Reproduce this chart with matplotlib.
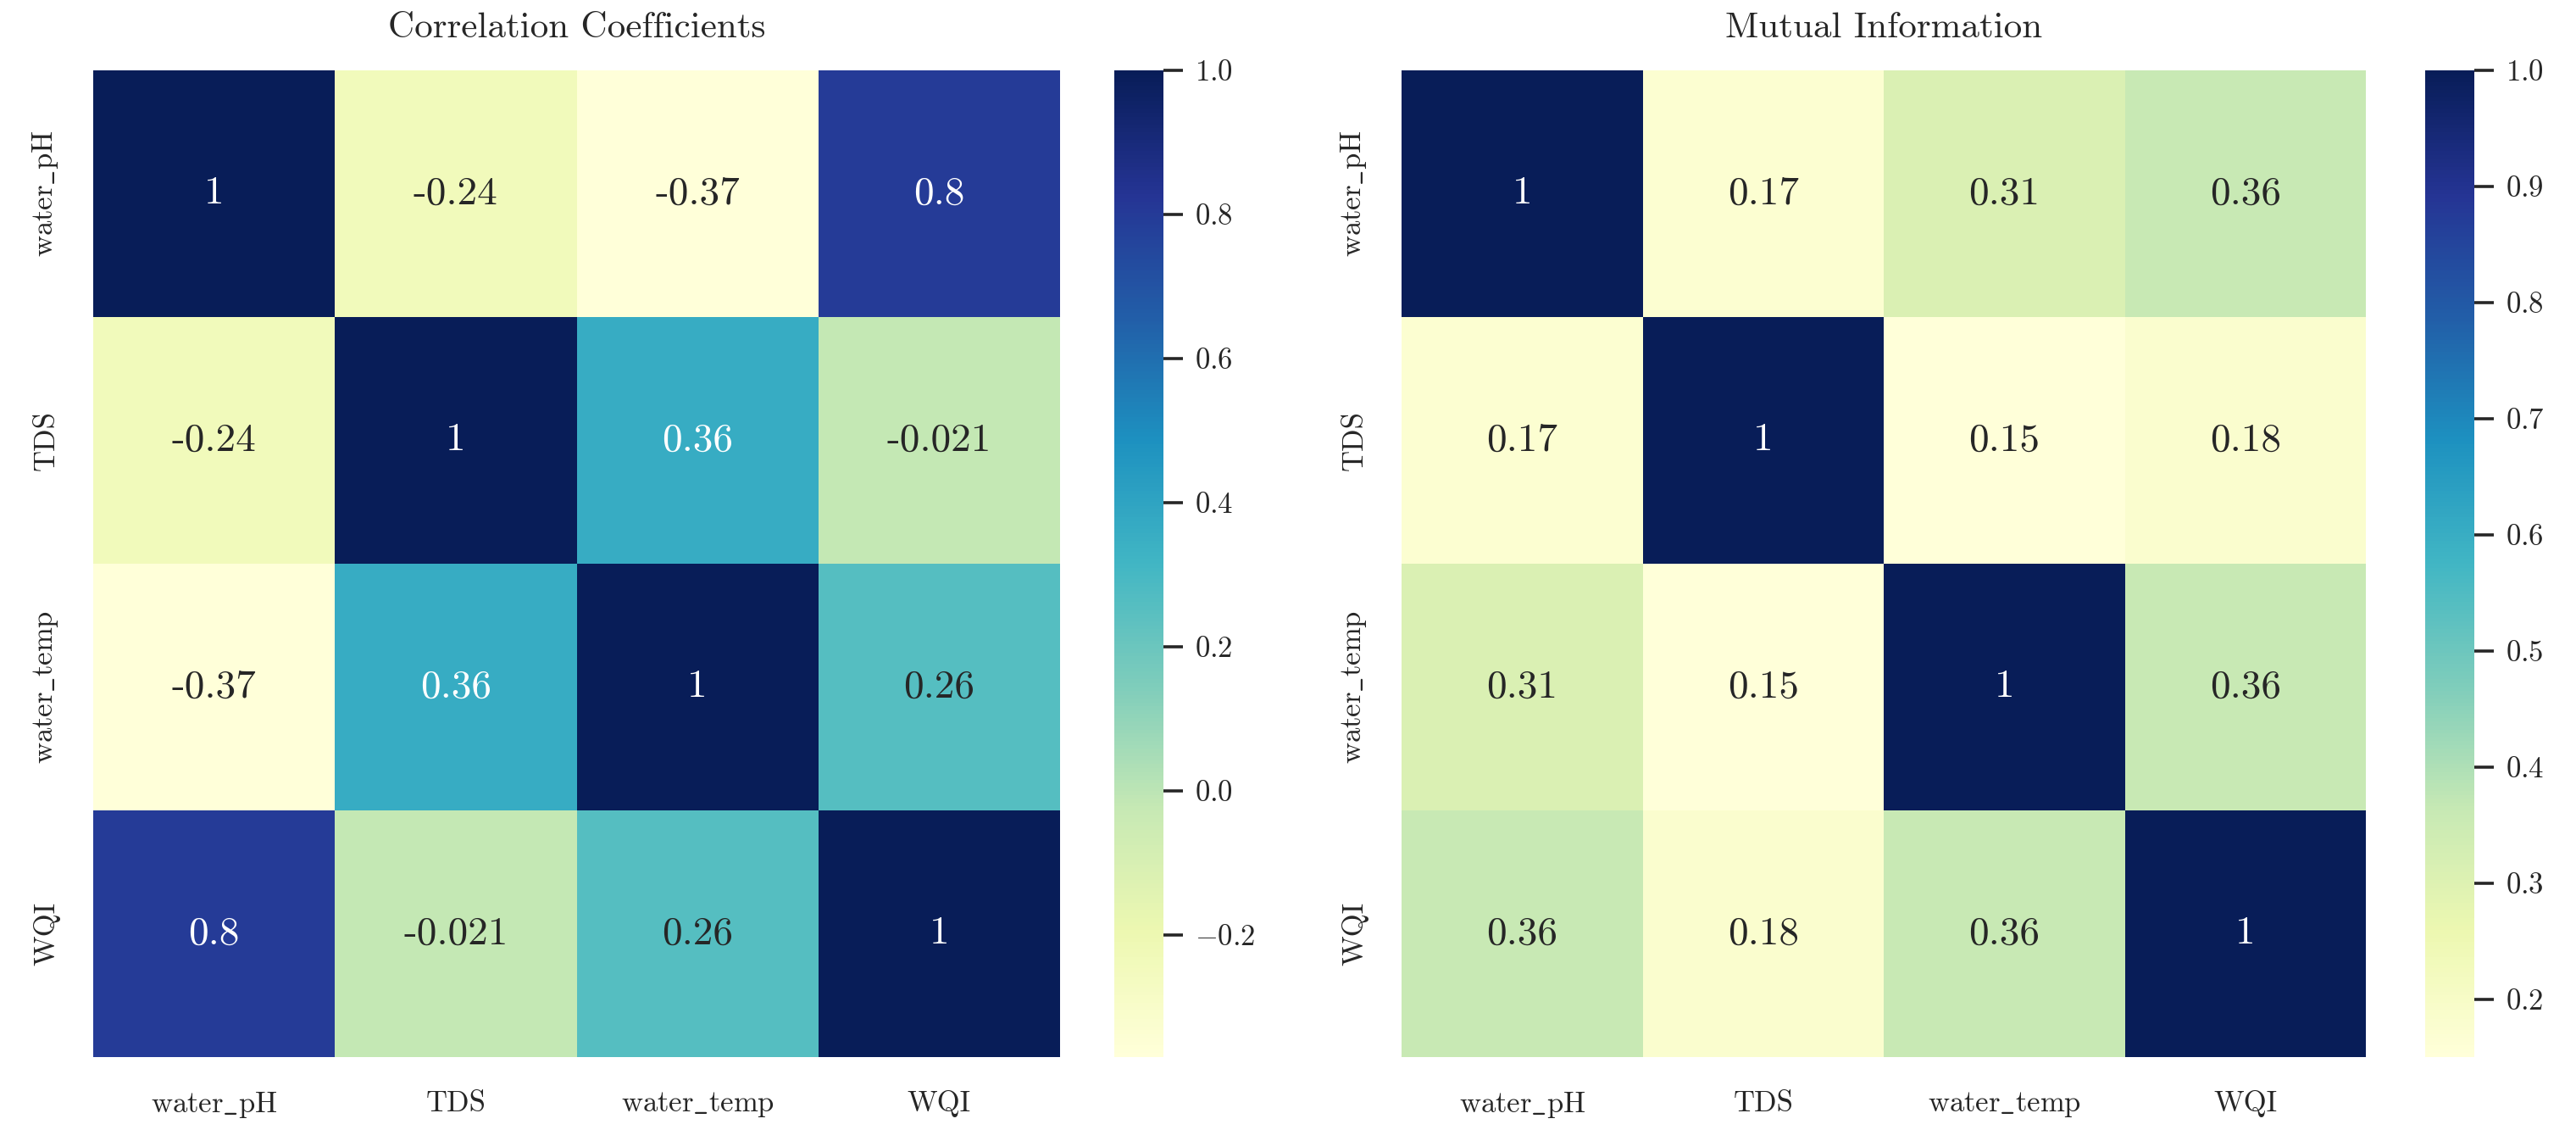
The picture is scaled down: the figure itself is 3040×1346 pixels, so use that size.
import numpy as np
import matplotlib
matplotlib.use("Agg")
import matplotlib.pyplot as plt
import seaborn as sns

labels = ["water_pH", "TDS", "water_temp", "WQI"]
corr_vals = [
    [1.0, -0.24, -0.37, 0.8],
    [-0.24, 1.0, 0.36, -0.021],
    [-0.37, 0.36, 1.0, 0.26],
    [0.8, -0.021, 0.26, 1.0],
]
mi_vals = [
    [1.0, 0.17, 0.31, 0.36],
    [0.17, 1.0, 0.15, 0.18],
    [0.31, 0.15, 1.0, 0.36],
    [0.36, 0.18, 0.36, 1.0],
]
titles = ["Correlation Coefficients", "Mutual Information"]

sns.set_theme(style="white")
plt.rcParams["font.family"] = ["cmr10", "DejaVu Serif"]
plt.rcParams["mathtext.fontset"] = "cm"
plt.rcParams["axes.formatter.use_mathtext"] = True
plt.rcParams["axes.unicode_minus"] = True

fig = plt.figure(figsize=(15.2, 6.73), dpi=200)
H = 1346.0
W = 3040.0
def rect(x0, x1, y0, y1):
    return [x0 / W, 1 - y1 / H, (x1 - x0) / W, (y1 - y0) / H]

ax1 = fig.add_axes(rect(110, 1251, 83, 1247))
cb1 = fig.add_axes(rect(1315, 1373, 83, 1247))
ax2 = fig.add_axes(rect(1654, 2792, 83, 1247))
cb2 = fig.add_axes(rect(2862, 2920, 83, 1247))

tick_labels = [l.replace("_", r"$\_$") for l in labels]

for ax, cax, vals, title in [(ax1, cb1, corr_vals, titles[0]), (ax2, cb2, mi_vals, titles[1])]:
    sns.heatmap(np.array(vals), ax=ax, cbar_ax=cax, cmap="YlGnBu", annot=True,
                fmt=".2g", annot_kws={"fontsize": 17},
                xticklabels=tick_labels, yticklabels=tick_labels)
    ax.set_title(title, fontsize=15.5, pad=14, color="#262626")
    ax.tick_params(axis="both", length=0, pad=14, labelsize=12.5, colors="#262626")
    ax.tick_params(axis="y", rotation=90)
    for t in ax.get_yticklabels():
        t.set_va("center")
    cax.tick_params(length=8.3, width=1.3, pad=5, labelsize=12.5, colors="#262626")

cb1.set_yticks([-0.2, 0.0, 0.2, 0.4, 0.6, 0.8, 1.0])
cb2.set_yticks([0.2, 0.3, 0.4, 0.5, 0.6, 0.7, 0.8, 0.9, 1.0])

fig.savefig("out.png", dpi=200)
